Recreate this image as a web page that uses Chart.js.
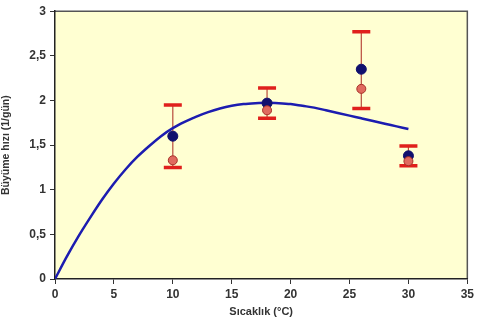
<!DOCTYPE html>
<html>
<head>
<meta charset="utf-8">
<script src="https://cdn.jsdelivr.net/npm/chart.js@4"></script>
<style>
  html, body { margin: 0; padding: 0; background: #fff; }
  #wrap { width: 477px; height: 324px; }
</style>
</head>
<body>
<div id="wrap"><canvas id="growthChart" width="477" height="324"></canvas></div>
<script>
// measured temperatures and growth rates
var temps = [10, 18, 26, 30];
var rateBlue = [1.60, 1.97, 2.35, 1.38];
var rateRed = [1.33, 1.89, 2.13, 1.32];
var errLow = [1.25, 1.80, 1.91, 1.27];
var errHigh = [1.95, 2.14, 2.77, 1.49];

// fitted model curve
var curveX = [0, 1, 2, 3, 4, 5, 6, 7, 8, 9, 10, 11, 12, 13, 14, 15, 16, 17, 18, 19, 20, 21, 22, 23, 24, 25, 26, 27, 28, 29, 30];
var curveY = [0, 0.25, 0.48, 0.69, 0.89, 1.07, 1.23, 1.37, 1.49, 1.60, 1.69, 1.76, 1.82, 1.87, 1.91, 1.94, 1.96, 1.97, 1.975, 1.97, 1.96, 1.94, 1.92, 1.89, 1.86, 1.83, 1.80, 1.77, 1.74, 1.71, 1.68];

function toPts(xs, ys) {
  return xs.map(function (x, i) { return { x: x, y: ys[i] }; });
}

var plotBg = {
  id: "plotBg",
  beforeDraw: function (chart) {
    var c = chart.ctx, a = chart.chartArea;
    c.save();
    c.fillStyle = "#ffffd2";
    c.fillRect(a.left, a.top, a.right - a.left, a.bottom - a.top);
    c.strokeStyle = "#555";
    c.lineWidth = 1.5;
    c.beginPath();
    c.moveTo(a.left, a.top);
    c.lineTo(a.right, a.top);
    c.lineTo(a.right, a.bottom);
    c.stroke();
    c.restore();
  }
};

var errorBars = {
  id: "errorBars",
  beforeDatasetsDraw: function (chart) {
    var c = chart.ctx;
    var xs = chart.scales.x, ys = chart.scales.y;
    c.save();
    temps.forEach(function (t, i) {
      var px = xs.getPixelForValue(t);
      var lo = ys.getPixelForValue(errLow[i]);
      var hi = ys.getPixelForValue(errHigh[i]);
      c.strokeStyle = "#b84a3c";
      c.lineWidth = 1.2;
      c.beginPath();
      c.moveTo(px, hi);
      c.lineTo(px, lo);
      c.stroke();
      c.strokeStyle = "#e0201c";
      c.lineWidth = 3.5;
      c.beginPath();
      c.moveTo(px - 9, hi);
      c.lineTo(px + 9, hi);
      c.moveTo(px - 9, lo);
      c.lineTo(px + 9, lo);
      c.stroke();
    });
    c.restore();
  }
};

var ctx = document.getElementById("growthChart").getContext("2d");
var growthChart = new Chart(ctx, {
  type: "scatter",
  data: {
    datasets: [
      {
        label: "red",
        data: toPts(temps, rateRed),
        backgroundColor: "#e06a5e",
        borderColor: "#a8322a",
        borderWidth: 1,
        pointRadius: 4.5,
        order: 1,
      },
      {
        label: "blue",
        data: toPts(temps, rateBlue),
        backgroundColor: "#10106e",
        borderColor: "#10106e",
        borderWidth: 1,
        pointRadius: 5,
        order: 2,
      },
      {
        label: "model",
        type: "line",
        data: toPts(curveX, curveY),
        borderColor: "#1c1cb0",
        borderWidth: 2.5,
        pointRadius: 0,
        tension: 0.4,
        cubicInterpolationMode: "monotone",
        fill: false,
        order: 3,
      },
    ],
  },
  options: {
    responsive: false,
    animation: false,
    layout: { padding: { top: 11, right: 5, left: 0, bottom: 5 } },
    plugins: {
      legend: { display: false },
      tooltip: { enabled: false },
    },
    scales: {
      x: {
        type: "linear",
        min: 0,
        max: 35,
        ticks: {
          stepSize: 5,
          color: "#333",
          padding: 3,
          font: { family: "Liberation Sans, Arial", size: 12, weight: "bold" },
        },
        grid: { display: true, drawOnChartArea: false, tickLength: 5, color: "#333" },
        border: { color: "#222", width: 1.5 },
        title: {
          display: true,
          text: "Sıcaklık (°C)",
          color: "#333",
          padding: { top: 2, bottom: 0 },
          font: { family: "Liberation Sans, Arial", size: 11, weight: "bold" },
        },
        afterFit: function (s) { s.height = 40; },
      },
      y: {
        min: 0,
        max: 3,
        ticks: {
          stepSize: 0.5,
          color: "#333",
          padding: 4,
          font: { family: "Liberation Sans, Arial", size: 12, weight: "bold" },
          callback: function (v) { return String(v).replace(".", ","); },
        },
        grid: { display: true, drawOnChartArea: false, tickLength: 5, color: "#333" },
        border: { color: "#222", width: 1.5 },
        title: {
          display: true,
          text: "Büyüme hızı (1/gün)",
          color: "#333",
          padding: { top: 0, bottom: 4 },
          font: { family: "Liberation Sans, Arial", size: 10.5, weight: "bold" },
        },
        afterFit: function (s) { s.width = 55; },
      },
    },
  },
  plugins: [plotBg, errorBars],
});
</script>
</body>
</html>
